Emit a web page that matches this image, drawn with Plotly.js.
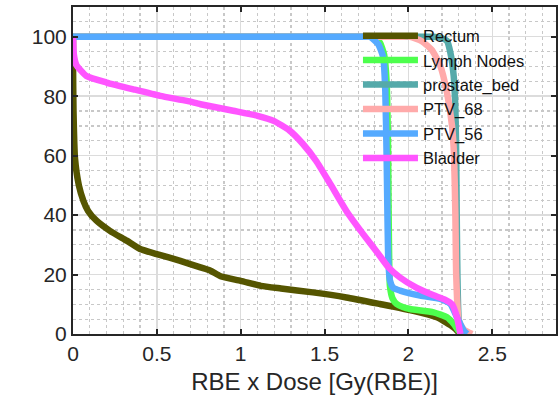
<!DOCTYPE html>
<html>
<head>
<meta charset="utf-8">
<script src="https://cdn.plot.ly/plotly-3.0.1.min.js"></script>
<style>
html,body{margin:0;padding:0;background:#fff;}
#chart{width:560px;height:409px;}
</style>
</head>
<body>
<div id="chart"></div>
<script>
// Structure names (legend order = draw order)
const names = ["Rectum", "Lymph Nodes", "prostate_bed", "PTV_68", "PTV_56", "Bladder"];
const colors = ["#555500", "#4dff4d", "#55aaaa", "#ffaaaa", "#55aaff", "#ff55ff"];

// Dose values (Gy(RBE)) and volume (%)
const rectumX = [0, 0, 0.003, 0.012, 0.035, 0.062, 0.09, 0.14, 0.22, 0.32, 0.40, 0.50, 0.64, 0.76, 0.82, 0.88, 1.0, 1.12, 1.24, 1.43, 1.63, 1.83, 2.03, 2.17, 2.27, 2.31];
const rectumY = [100, 92, 75, 59, 50, 44.8, 41.4, 38.1, 34.7, 31.4, 28.6, 26.9, 24.6, 22.4, 21.3, 19.4, 17.9, 16.2, 15.3, 14.0, 12.3, 10.1, 7.8, 5.6, 2.2, 0];

const lymphX = [0, 0.8, 1.6, 1.74, 1.79, 1.83, 1.855, 1.87, 1.878, 1.882, 1.886, 1.89, 1.905, 1.93, 1.97, 2.01, 2.15, 2.23, 2.27, 2.30, 2.32];
const lymphY = [100, 100, 100, 100, 100, 98, 94, 85, 65, 40, 22, 16, 12, 10.1, 9, 8.4, 7.3, 5.6, 3.4, 1, 0];

const prostateX = [0, 1.0, 2.0, 2.1, 2.15, 2.2, 2.23, 2.25, 2.27, 2.28, 2.285, 2.288, 2.292, 2.30, 2.32];
const prostateY = [100, 100, 100, 100, 100, 99.5, 98.6, 94.7, 86.8, 75.7, 60, 40, 20, 5, 0];

const ptv68X = [0, 1.0, 1.8, 1.95, 2.01, 2.08, 2.14, 2.19, 2.23, 2.26, 2.272, 2.28, 2.285, 2.30, 2.33, 2.38];
const ptv68Y = [100, 100, 100, 100, 100, 98.5, 95.5, 90.2, 81.2, 70, 60, 40, 20, 4.5, 1.5, 0];

const ptv56X = [0, 0.8, 1.6, 1.72, 1.77, 1.82, 1.85, 1.862, 1.87, 1.875, 1.88, 1.89, 1.91, 1.95, 2.07, 2.19, 2.25, 2.29, 2.33, 2.35];
const ptv56Y = [100, 100, 100, 100, 100, 97.5, 93, 82, 60, 40, 25, 18, 15.5, 14.6, 12.9, 11.8, 10.1, 5.6, 1.1, 0];

const bladderX = [0, 0.005, 0.02, 0.08, 0.2, 0.36, 0.52, 0.68, 0.76, 0.955, 1.10, 1.20, 1.29, 1.37, 1.45, 1.535, 1.63, 1.73, 1.82, 1.88, 1.95, 2.05, 2.15, 2.22, 2.26, 2.29, 2.31];
const bladderY = [100, 94, 90.5, 86.8, 84.6, 82.3, 80.1, 78.4, 77.3, 75.1, 73.4, 71.6, 68.5, 64, 58.2, 50.4, 41.4, 33.6, 27, 22.5, 19, 15.5, 13, 11.5, 10, 5.5, 0];

const xTicks = [0, 0.5, 1, 1.5, 2, 2.5];
const xTickText = ["0", "0.5", "1", "1.5", "2", "2.5"];
const yTicks = [0, 20, 40, 60, 80, 100];
const yTickText = ["0", "20", "40", "60", "80", "100"];

const xs = [rectumX, lymphX, prostateX, ptv68X, ptv56X, bladderX];
const ys = [rectumY, lymphY, prostateY, ptv68Y, ptv56Y, bladderY];

const traces = names.map((n, i) => ({
  type: "scatter",
  mode: "lines",
  name: n,
  x: xs[i],
  y: ys[i],
  line: {color: colors[i], width: 6.5, shape: "spline", smoothing: 0.5}
}));

const axisCommon = {
  showline: true,
  linecolor: "#262626",
  linewidth: 2,
  mirror: "ticks",
  ticks: "inside",
  ticklen: 5,
  tickwidth: 2,
  tickcolor: "#262626",
  showgrid: true,
  gridcolor: "#dcdcdc",
  gridwidth: 1.5,
  zeroline: false,
  tickfont: {family: "Liberation Sans, Arial, sans-serif", size: 21, color: "#262626"}
};

const layout = {
  width: 560,
  height: 409,
  margin: {l: 73, r: 4, t: 7, b: 75},
  paper_bgcolor: "#ffffff",
  plot_bgcolor: "#ffffff",
  showlegend: true,
  legend: {
    x: 0.59, y: 0.965, xanchor: "left", yanchor: "top",
    bgcolor: "rgba(0,0,0,0)",
    borderwidth: 0,
    itemwidth: 55,
    font: {family: "Liberation Sans, Arial, sans-serif", size: 16.5, color: "#111111"}
  },
  xaxis: Object.assign({}, axisCommon, {
    range: [0, 2.88],
    tickvals: xTicks,
    ticktext: xTickText,
    minor: {dtick: 0.1, tick0: 0, showgrid: true, gridcolor: "#c8c8c8", griddash: "dot", gridwidth: 1.2},
    title: {text: "RBE x Dose [Gy(RBE)]", font: {family: "Liberation Sans, Arial, sans-serif", size: 24, color: "#262626"}, standoff: 9}
  }),
  yaxis: Object.assign({}, axisCommon, {
    range: [0, 110],
    tickvals: yTicks,
    ticktext: yTickText,
    minor: {dtick: 5, tick0: 0, showgrid: true, gridcolor: "#c8c8c8", griddash: "dot", gridwidth: 1.2}
  })
};

Plotly.newPlot("chart", traces, layout, {displayModeBar: false, staticPlot: true});
</script>
</body>
</html>
